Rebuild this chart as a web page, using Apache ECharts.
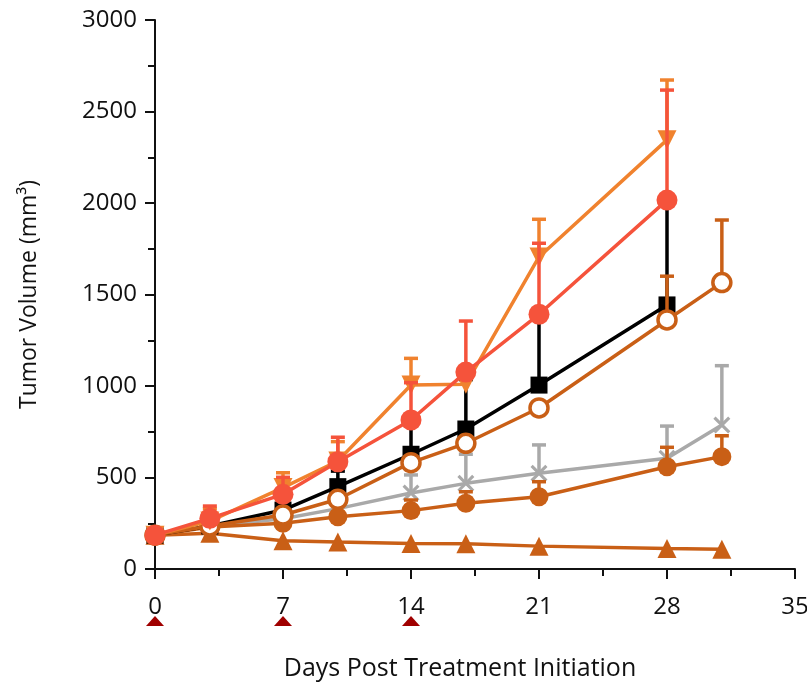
<!DOCTYPE html>
<html>
<head>
<meta charset="utf-8">
<script src="https://cdn.jsdelivr.net/npm/echarts@6/dist/echarts.min.js"></script>
<style>html,body{margin:0;padding:0;background:#fff;}#c{width:807px;height:683px;}</style>
</head>
<body>
<div id="c"></div>
<script>
// ---- data ----
const days8 = [0, 3, 7, 10, 14, 17, 21, 28];
const days9 = [0, 3, 7, 10, 14, 17, 21, 28, 31];
const dosingDays = [0, 7, 14];

const vehicle = [185, 235, 322, 450, 627, 765, 1005, 1443];
const vehicleErr = [null, null, 385, 535, 800, 1035, 1365, 1998];

const grpDownTri = [185, 262, 445, 590, 1005, 1010, 1705, 2345];
const grpDownTriErr = [null, 330, 526, 696, 1151, null, 1911, 2672];

const grpRedCircle = [185, 277, 408, 586, 814, 1076, 1392, 2016];
const grpRedCircleErr = [null, 344, 501, 720, 1018, 1355, 1780, 2617];

const grpOpenCircle = [185, 235, 295, 381, 581, 687, 880, 1361, 1565];
const grpOpenCircleErr = [null, null, null, null, null, null, null, 1600, 1907];

const grpGrayX = [185, 235, 275, 330, 415, 468, 523, 605, 787];
const grpGrayXErr = [null, null, null, null, 514, 627, 678, 781, 1111];

const grpFilledCircle = [185, 230, 250, 286, 319, 359, 395, 559, 614];
const grpFilledCircleErr = [null, null, null, null, 377, 422, 477, 665, 728];

const grpTriangle = [185, 195, 155, 147, 139, 138, 125, 112, 108];

const yTicks = [0, 500, 1000, 1500, 2000, 2500, 3000];
const xTicks = [0, 7, 14, 21, 28, 35];

// ---- styles ----
const C_BLACK = '#000000';
const C_ORANGE = '#F0822E';
const C_RED = '#F5533B';
const C_DARK = '#C95F16';
const C_GRAY = '#A9A9A9';
const FONT = 'Open Sans';
const LW = 3.5;
const X_SYMBOL = 'path://M0,1.3L1.3,0L5,3.7L8.7,0L10,1.3L6.3,5L10,8.7L8.7,10L5,6.3L1.3,10L0,8.7L3.7,5Z';

function pairs(xs, ys) { return xs.map((x, i) => [x, ys[i]]); }

function errSeries(xs, ys, ups, color, z) {
  const data = [];
  xs.forEach((x, i) => { if (ups[i] != null) data.push([x, ys[i], ups[i]]); });
  return {
    type: 'custom', z: z, data: data, encode: { x: 0, y: [1, 2] },
    renderItem: function (params, api) {
      const x = api.value(0);
      const p0 = api.coord([x, api.value(1)]);
      const p1 = api.coord([x, api.value(2)]);
      return {
        type: 'group',
        children: [
          { type: 'line', shape: { x1: p0[0], y1: p0[1], x2: p1[0], y2: p1[1] }, style: { stroke: color, lineWidth: LW } },
          { type: 'line', shape: { x1: p1[0] - 7, y1: p1[1], x2: p1[0] + 7, y2: p1[1] }, style: { stroke: color, lineWidth: LW } }
        ]
      };
    }
  };
}

function lineSeries(xs, ys, color, symbol, size, z, extra) {
  return Object.assign({
    type: 'line', z: z, data: pairs(xs, ys), symbol: symbol, symbolSize: size,
    showAllSymbol: true, animation: false,
    lineStyle: { color: color, width: LW },
    itemStyle: { color: color, opacity: 1 },
    emphasis: { disabled: true }
  }, extra || {});
}

const series = [
  errSeries(days9, grpGrayX, grpGrayXErr, C_GRAY, 2),
  lineSeries(days9, grpGrayX, C_GRAY, X_SYMBOL, 17, 3),
  errSeries(days9, grpFilledCircle, grpFilledCircleErr, C_DARK, 4),
  lineSeries(days9, grpFilledCircle, C_DARK, 'circle', 19, 5),
  lineSeries(days9, grpTriangle, C_DARK, 'triangle', 19, 6),
  errSeries(days8, vehicle, vehicleErr, C_BLACK, 7),
  lineSeries(days8, vehicle, C_BLACK, 'rect', 17, 8),
  errSeries(days9, grpOpenCircle, grpOpenCircleErr, C_DARK, 9),
  lineSeries(days9, grpOpenCircle, C_DARK, 'circle', 18, 10, {
    itemStyle: { color: '#ffffff', borderColor: C_DARK, borderWidth: 3.5, opacity: 1 }
  }),
  errSeries(days8, grpDownTri, grpDownTriErr, C_ORANGE, 11),
  lineSeries(days8, grpDownTri, C_ORANGE, 'triangle', 19, 12, { symbolRotate: 180 }),
  errSeries(days8, grpRedCircle, grpRedCircleErr, C_RED, 13),
  lineSeries(days8, grpRedCircle, C_RED, 'circle', 21, 14),
  {
    type: 'scatter', xAxisIndex: 1, yAxisIndex: 1, z: 2,
    data: dosingDays.map(d => [d, 0.5]), symbol: 'triangle', symbolSize: [18, 10],
    itemStyle: { color: '#A00000', opacity: 1 }, silent: true
  }
];

const chart = echarts.init(document.getElementById('c'), null, { renderer: 'canvas' });
chart.setOption({
  animation: false,
  backgroundColor: '#ffffff',
  textStyle: { fontFamily: FONT },
  grid: [
    { left: 155, right: 12, top: 20, bottom: 114, containLabel: false, outerBoundsMode: 'none' },
    { left: 155, right: 12, top: 615, height: 12, containLabel: false, outerBoundsMode: 'none' }
  ],
  xAxis: [
    {
      type: 'value', gridIndex: 0, min: xTicks[0], max: xTicks[xTicks.length - 1], interval: 7,
      name: 'Days Post Treatment Initiation', nameLocation: 'middle', nameGap: 87,
      nameTextStyle: { fontSize: 25, color: '#111', fontFamily: FONT, padding: [0, 30, 0, 0] },
      axisLine: { onZero: false, lineStyle: { color: '#111', width: 2 } },
      axisTick: { length: 10, lineStyle: { color: '#111', width: 2 } },
      minorTick: { show: true, splitNumber: 2, length: 7, lineStyle: { color: '#111', width: 2 } },
      axisLabel: { fontSize: 24, color: '#111', margin: 26, fontFamily: FONT, formatter: v => String(v) },
      splitLine: { show: false }
    },
    {
      type: 'value', gridIndex: 1, min: xTicks[0], max: xTicks[xTicks.length - 1], show: false
    }
  ],
  yAxis: [
    {
      type: 'value', gridIndex: 0, min: yTicks[0], max: yTicks[yTicks.length - 1], interval: 500,
      name: 'Tumor Volume (mm³)', nameLocation: 'middle', nameGap: 114,
      nameTextStyle: { fontSize: 23, color: '#111', fontFamily: FONT },
      axisLine: { show: true, onZero: false, lineStyle: { color: '#111', width: 2 } },
      axisTick: { show: true, length: 10, lineStyle: { color: '#111', width: 2 } },
      minorTick: { show: true, splitNumber: 2, length: 7, lineStyle: { color: '#111', width: 2 } },
      axisLabel: { fontSize: 24, color: '#111', margin: 18, fontFamily: FONT, formatter: v => String(v) },
      splitLine: { show: false }
    },
    { type: 'value', gridIndex: 1, min: 0, max: 1, show: false }
  ],
  series: series
});
</script>
</body>
</html>
